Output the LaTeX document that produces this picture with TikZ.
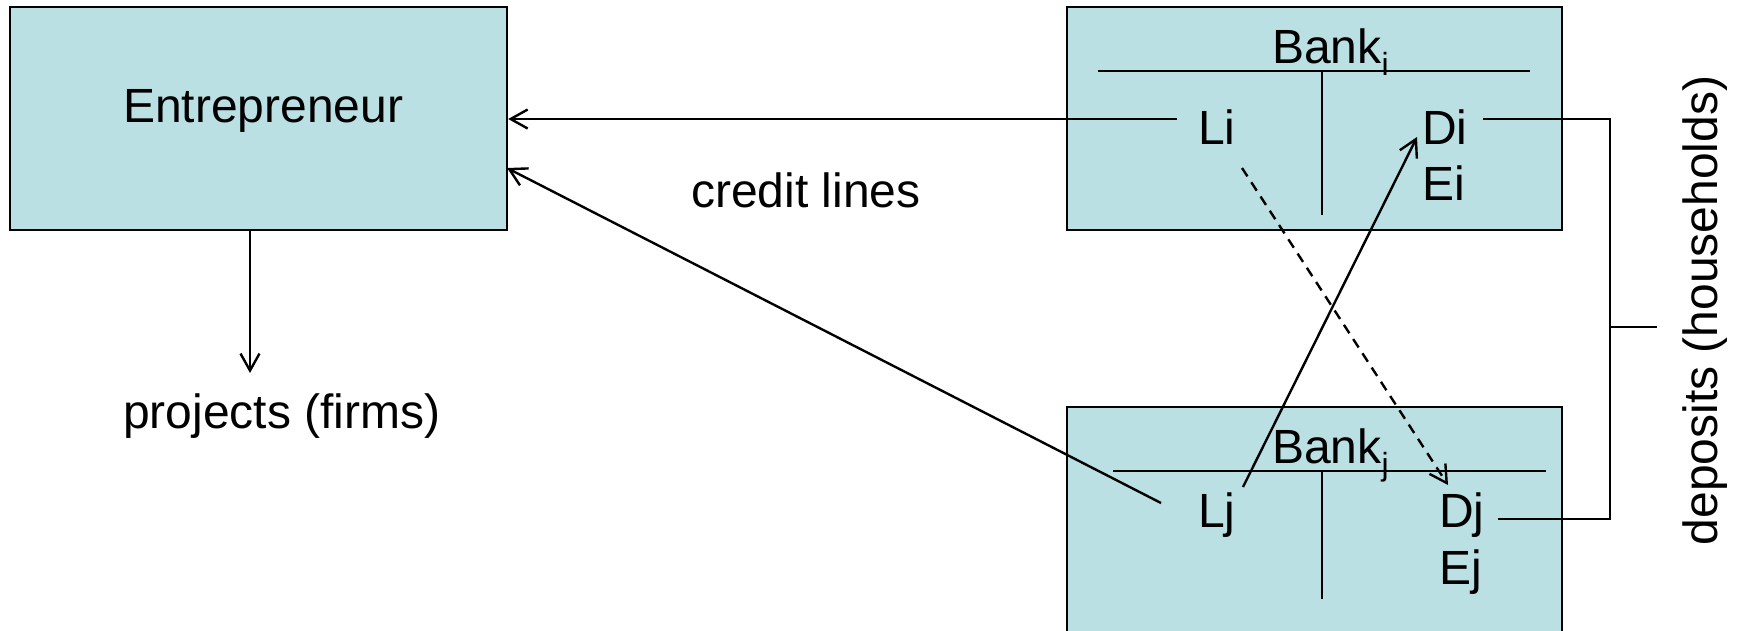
\documentclass[tikz,border=0pt]{standalone}
\usepackage{fontspec}
\setmainfont{Liberation Sans}
\usetikzlibrary{arrows.meta}
\definecolor{boxfill}{RGB}{186,224,228}
\newcommand\mysub[1]{\raisebox{-12pt}{\fontsize{32}{32}\selectfont #1}}
\begin{document}
\begin{tikzpicture}[x=1pt,y=-1pt,
  box/.style={draw=black,line width=2.4pt,fill=boxfill,inner sep=0pt},
  lbl/.style={inner sep=0pt,anchor=base west,font=\fontsize{48}{57}\selectfont},
  conn/.style={line width=2.4pt},
  arr/.style={conn,-{Straight Barb[length=17pt,width=19pt]}},
  dasharr/.style={conn,dash pattern=on 10pt off 7pt,-{Straight Barb[length=17pt,width=19pt]}}
]
\useasboundingbox (0,0) rectangle (1739,630);
% boxes
\node[box,minimum width=497pt,minimum height=223pt] (ent) at (258.5,118.5) {};
\node[box,minimum width=495pt,minimum height=223pt] (banki) at (1314.5,118.5) {};
\node[box,minimum width=495pt,minimum height=238pt] (bankj) at (1314.5,526) {};
% T-accounts
\draw[conn] (1098,71) -- (1530,71);
\draw[conn] (1322,71) -- (1322,215);
\draw[conn] (1113,471) -- (1546,471);
\draw[conn] (1322,471) -- (1322,599);
% labels
\node[lbl] (entl) at (123,122) {Entrepreneur};
\node[lbl] (proj) at (123,428) {projects (firms)};
\node[lbl] (cred) at (691,207) {credit lines};
\node[lbl] (bi) at (1272,63) {Bank\mysub{i}};
\node[lbl] (li) at (1198,144) {Li};
\node[lbl] (di) at (1422,144) {Di};
\node[lbl] (ei) at (1422,200) {Ei};
\node[lbl] (bj) at (1272,463) {Bank\mysub{j}};
\node[lbl] (lj) at (1198,527) {Lj};
\node[lbl] (dj) at (1439,527) {Dj};
\node[lbl] (ej) at (1439,584) {Ej};
\node[lbl,anchor=base,rotate=90] (dep) at (1717,310.5) {deposits (households)};
% connector end points
\coordinate (liL) at (1177,119);
\coordinate (ljL) at (1161,503);
\coordinate (entin2) at (507,168);
\coordinate (entb) at (250,231);
\coordinate (projtop) at (250,373);
\coordinate (ljs) at (1243,487);
\coordinate (dit) at (1417,137);
\coordinate (lis) at (1242,168);
\coordinate (djt) at (1448,485);
\coordinate (diR) at (1483,119);
\coordinate (djR) at (1498,519);
\coordinate (brT) at (1610,119);
\coordinate (brB) at (1610,519);
\coordinate (brM) at (1610,327);
\coordinate (brE) at (1657,327);
% connectors
\draw[arr] (liL) -- (ent.east |- liL);
\draw[arr] (ljL) -- (entin2);
\draw[arr] (entb) -- (projtop);
\draw[arr] (ljs) -- (dit);
\draw[dasharr] (lis) -- (djt);
\draw[conn] (diR) -- (brT) -- (brB) -- (djR);
\draw[conn] (brM) -- (brE);
\end{tikzpicture}
\end{document}
